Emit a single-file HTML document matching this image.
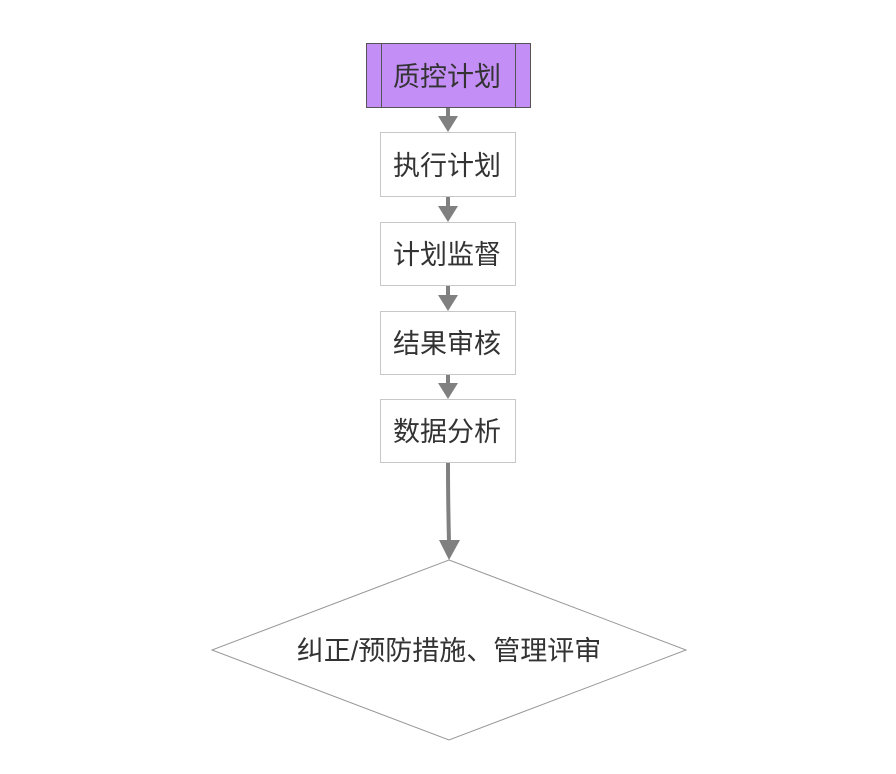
<!DOCTYPE html>
<html><head><meta charset="utf-8"><style>
body{margin:0;background:#fff;}
svg text{font-family:"Liberation Sans","Noto Sans CJK SC",sans-serif;font-size:27px;fill:#333;text-anchor:middle;dominant-baseline:central;}
</style></head><body>
<svg width="896" height="769" viewBox="0 0 896 769">
<rect x="366.5" y="43.5" width="164" height="64" fill="#c38ef5" stroke="#555"/>
<line x1="381.5" y1="43.5" x2="381.5" y2="107.5" stroke="#555"/>
<line x1="515.5" y1="43.5" x2="515.5" y2="107.5" stroke="#555"/>
<text x="447" y="77">质控计划</text>
<g fill="#fff" stroke="#c8c8c8">
<rect x="380.5" y="132.5" width="135" height="64"/>
<rect x="380.5" y="222.5" width="135" height="63"/>
<rect x="380.5" y="311.5" width="135" height="63"/>
<rect x="380.5" y="399.5" width="135" height="63"/>
</g>
<text x="447" y="166">执行计划</text>
<text x="447" y="255">计划监督</text>
<text x="447" y="344">结果审核</text>
<text x="447" y="432">数据分析</text>
<g stroke="#808080" stroke-width="4">
<line x1="448" y1="108" x2="448" y2="118"/>
<line x1="448" y1="197" x2="448" y2="208"/>
<line x1="448" y1="286" x2="448" y2="297"/>
<line x1="448" y1="375" x2="448" y2="385"/>
<path d="M448 463 Q448 500 449 542" fill="none"/>
</g>
<g fill="#808080">
<polygon points="438,116 458,116 448,132"/>
<polygon points="438,206 458,206 448,222"/>
<polygon points="438,295 458,295 448,311"/>
<polygon points="438,383 458,383 448,399"/>
<polygon points="439,540 460,540 449,560"/>
</g>
<polygon points="449,560 686,650 449,740 212,650" fill="#fff" stroke="#999"/>
<text x="449" y="651">纠正/预防措施、管理评审</text>
</svg>
</body></html>
